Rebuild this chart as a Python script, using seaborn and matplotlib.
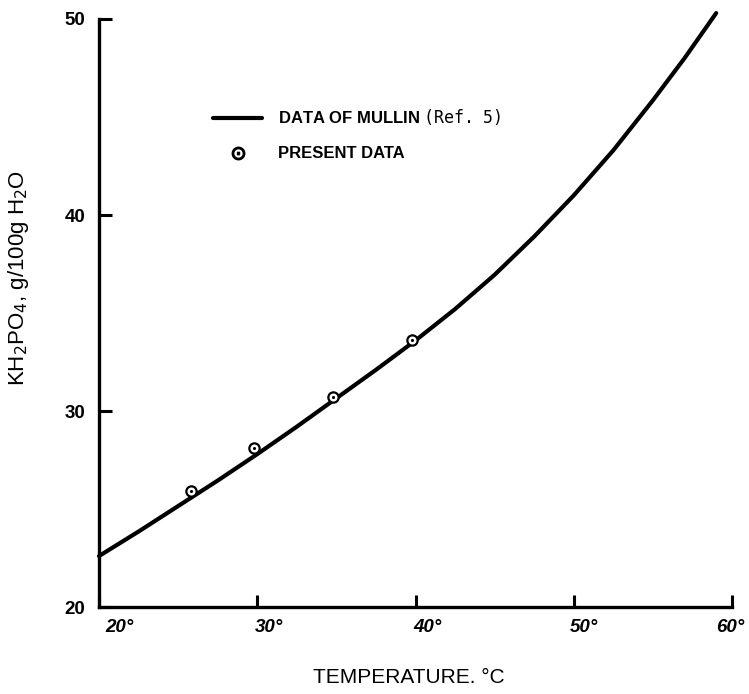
import matplotlib
matplotlib.use("Agg")
import matplotlib.pyplot as plt
import matplotlib.transforms as mtransforms
from matplotlib.lines import Line2D
import seaborn as sns
import pandas as pd

# Curve: data of Mullin
mullin_temp = [20, 22.5, 25, 27.5, 30, 32.5, 35, 37.5, 40, 42.5, 45, 47.5, 50, 52.5, 55, 57, 59]
mullin_sol = [22.6, 23.85, 25.15, 26.45, 27.8, 29.2, 30.65, 32.1, 33.6, 35.2, 36.95, 38.9, 41.0, 43.3, 45.85, 48.0, 50.3]

# Present data points
present_temp = [25.8, 29.8, 34.8, 39.8]
present_sol = [25.9, 28.1, 30.7, 33.6]

x_ticks = [20, 30, 40, 50, 60]
x_ticklabels = ["20°", "30°", "40°", "50°", "60°"]
y_ticks = [20, 30, 40, 50]
y_ticklabels = ["20", "30", "40", "50"]

sns.set_theme(style="ticks")
plt.rcParams["font.family"] = ["Liberation Sans", "DejaVu Sans"]
plt.rcParams["text.color"] = "black"
plt.rcParams["axes.labelcolor"] = "black"
plt.rcParams["xtick.color"] = "black"
plt.rcParams["ytick.color"] = "black"

fig = plt.figure(figsize=(7.49, 6.94), dpi=100)
ax = fig.add_axes([99 / 749, 1 - 607 / 694, (732 - 99) / 749, (607 - 19) / 694])

curve = pd.DataFrame({"T": mullin_temp, "S": mullin_sol})
pts = pd.DataFrame({"T": present_temp, "S": present_sol})

sns.lineplot(data=curve, x="T", y="S", ax=ax, color="black", lw=3.0,
             clip_on=False, solid_capstyle="round", solid_joinstyle="round")
sns.scatterplot(data=pts, x="T", y="S", ax=ax, marker="o", s=55,
                facecolor="white", edgecolor="black", linewidth=1.6, zorder=3)
sns.scatterplot(data=pts, x="T", y="S", ax=ax, marker="o", s=5,
                color="black", linewidth=0, zorder=4)

ax.set_xlim(20, 60)
ax.set_ylim(20, 50)
sns.despine(ax=ax)
for side in ["left", "bottom"]:
    ax.spines[side].set_linewidth(2.4)
    ax.spines[side].set_color("black")

ax.set_xticks(x_ticks)
ax.set_xticklabels(x_ticklabels, fontsize=13.5, fontweight="bold", fontstyle="italic")
ax.set_yticks(y_ticks)
ax.set_yticklabels(y_ticklabels, fontsize=13.5, fontweight="bold")
ax.tick_params(axis="both", direction="in", length=9, width=2.2, color="black")
ax.tick_params(axis="x", pad=9)
ax.tick_params(axis="y", pad=10)

x_offsets_px = [20, 12, 12, 10, -2]
for lab, off in zip(ax.get_xticklabels(), x_offsets_px):
    lab.set_transform(lab.get_transform() +
                      mtransforms.ScaledTranslation(off / 100, 0, fig.dpi_scale_trans))

ax.set_xlabel("TEMPERATURE. °C", fontsize=15,
              family=["Liberation Sans Narrow", "Liberation Sans"])
ax.xaxis.set_label_coords(0.49, -0.103)
ax.set_ylabel("KH$_2$PO$_4$, g/100g H$_2$O", fontsize=16)
ax.yaxis.set_label_coords(-0.108, 0.56)

handles = [
    Line2D([], [], color="black", lw=3.0),
    Line2D([], [], color="black", marker=r"$\odot$", linestyle="none", markersize=9),
]
labels = ["DATA OF MULLIN $\\mathtt{(Ref.\\ 5)}$", "PRESENT DATA"]
leg = ax.legend(handles, labels, loc="upper left", bbox_to_anchor=(205 / 749, 1 - 99 / 694),
                bbox_transform=fig.transFigure, frameon=False, borderpad=0,
                handlelength=2.9, handletextpad=0.95, labelspacing=1.15,
                prop={"family": ["Liberation Sans Narrow", "Liberation Sans"],
                      "weight": "bold", "size": 12})

fig.savefig("out.png", dpi=100, facecolor="white")
